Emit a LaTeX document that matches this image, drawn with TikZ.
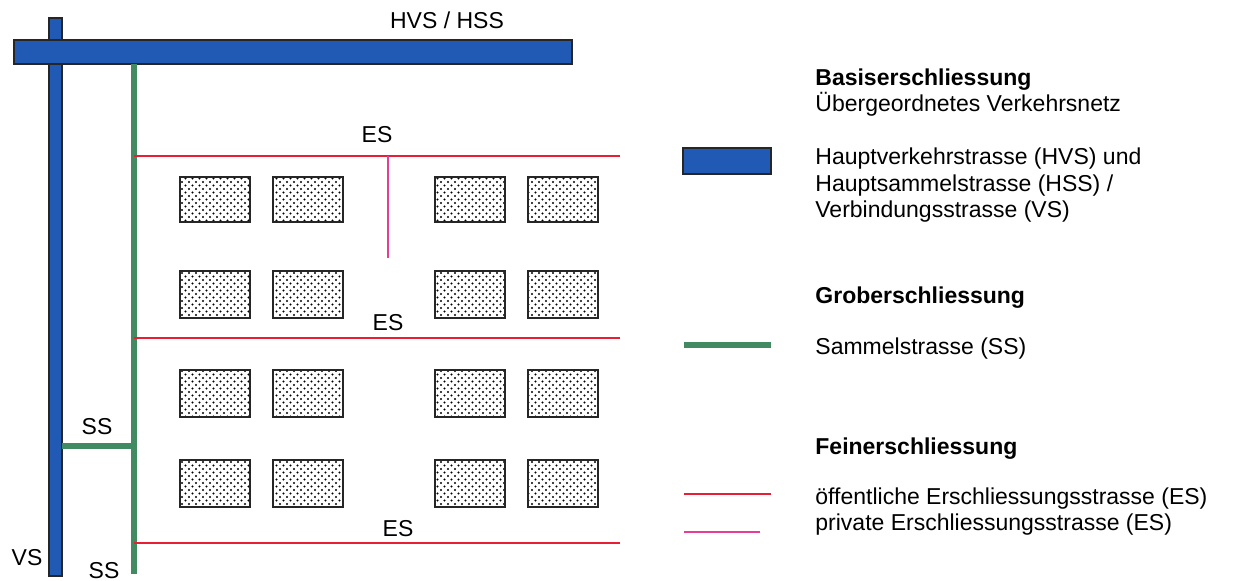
\documentclass[tikz,border=0pt]{standalone}
\usepackage{fontspec}
\setmainfont{Liberation Sans}
\usetikzlibrary{patterns}
\pgfdeclarepatternformonly{refdots}{\pgfqpoint{-1pt}{-1pt}}{\pgfqpoint{3pt}{3pt}}{\pgfqpoint{3.5pt}{3.5pt}}{%
  \pgfpathcircle{\pgfqpoint{0pt}{0pt}}{.55pt}%
  \pgfpathcircle{\pgfqpoint{1.75pt}{1.75pt}}{.55pt}%
  \pgfusepath{fill}}
\definecolor{hvsblue}{RGB}{32,90,180}
\definecolor{ssgreen}{RGB}{66,138,98}
\definecolor{esred}{RGB}{232,30,52}
\definecolor{espink}{RGB}{232,60,150}
\tikzset{
  bluebar/.style={fill=hvsblue, draw=black!85, line width=0.6pt},
  greenroad/.style={draw=ssgreen, line width=3pt},
  redroad/.style={draw=esred, line width=1.4pt},
  pinkroad/.style={draw=espink, line width=1.1pt},
  building/.style={pattern=refdots, draw=black!85, line width=0.6pt},
  lbl/.style={anchor=base, inner sep=0},
  legtxt/.style={anchor=base west, inner sep=0},
  leghead/.style={anchor=base west, inner sep=0, font=\fontsize{11.5}{13.5}\selectfont\bfseries}
}
\begin{document}
\begin{tikzpicture}[x=0.5pt,y=-0.5pt, every node/.style={font=\fontsize{11.5}{13.5}\selectfont}]
\useasboundingbox (0,0) rectangle (1234,581);
% main roads
\draw[bluebar] (49,18) rectangle (62,576);
\draw[bluebar] (14,40) rectangle (572,64);
\coordinate (ssTop) at (134,64);
\coordinate (ssBot) at (134,574);
\draw[greenroad] (ssTop) -- (ssBot);
\coordinate (brL) at (62,446);
\coordinate (brR) at (134,446);
\draw[greenroad] (brL) -- (brR);
% ES roads
\coordinate (es1L) at (134,156); \coordinate (es1R) at (620,156);
\coordinate (es2L) at (134,338); \coordinate (es2R) at (620,338);
\coordinate (es3L) at (134,543); \coordinate (es3R) at (620,543);
\draw[redroad] (es1L) -- (es1R);
\draw[redroad] (es2L) -- (es2R);
\draw[redroad] (es3L) -- (es3R);
\coordinate (pvT) at (388,156); \coordinate (pvB) at (388,258);
\draw[pinkroad] (pvT) -- (pvB);
% buildings
\foreach \x in {180,273,435,528}{
  \foreach \ya/\yb in {177/222,271/318,370/417,460/507}{
    \draw[building] (\x,\ya) rectangle (\x+70,\yb);
  }
}
% labels
\node[lbl] (lhvs) at (447,29) {HVS / HSS};
\node[lbl] (les1) at (377,143) {ES};
\node[lbl] (les2) at (388,331) {ES};
\node[lbl] (les3) at (398,536) {ES};
\node[lbl] (lss1) at (97,435) {SS};
\node[lbl] (lvs) at (27,565) {VS};
\node[lbl] (lss2) at (104,578) {SS};
% legend
\node[leghead] (h1) at (815,86) {Basiserschliessung};
\node[legtxt] (t1) at (815,112) {Übergeordnetes Verkehrsnetz};
\draw[bluebar] (683,148) rectangle (771,174);
\node[legtxt] (t2) at (815,165) {Hauptverkehrstrasse (HVS) und};
\node[legtxt] (t3) at (815,191.5) {Hauptsammelstrasse (HSS) /};
\node[legtxt] (t4) at (815,218) {Verbindungsstrasse (VS)};
\node[leghead] (h2) at (815,304) {Groberschliessung};
\coordinate (lgA) at (684,345); \coordinate (lgB) at (771,345);
\draw[greenroad] (lgA) -- (lgB);
\node[legtxt] (t5) at (815,355) {Sammelstrasse (SS)};
\node[leghead] (h3) at (815,455) {Feinerschliessung};
\coordinate (lrA) at (684,494); \coordinate (lrB) at (771,494);
\draw[redroad] (lrA) -- (lrB);
\node[legtxt] (t6) at (815,504) {öffentliche Erschliessungsstrasse (ES)};
\coordinate (lpA) at (684,532); \coordinate (lpB) at (760,532);
\draw[pinkroad] (lpA) -- (lpB);
\node[legtxt] (t7) at (815,530) {private Erschliessungsstrasse (ES)};
\end{tikzpicture}
\end{document}
